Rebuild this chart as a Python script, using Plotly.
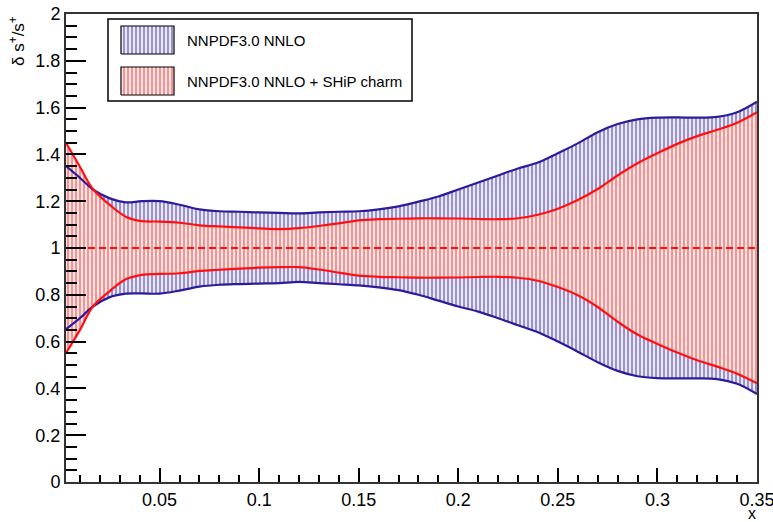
import plotly.graph_objects as go

# Strange-sea ratio uncertainty bands: delta s+/s+ versus x
x_vals = [0.003, 0.01, 0.0165, 0.025, 0.033, 0.041, 0.05, 0.06, 0.07, 0.08, 0.09,
          0.10, 0.11, 0.12, 0.13, 0.14, 0.15, 0.16, 0.17, 0.18, 0.19, 0.20,
          0.21, 0.22, 0.23, 0.24, 0.25, 0.26, 0.27, 0.28, 0.29, 0.30,
          0.31, 0.32, 0.33, 0.34, 0.35]

nnpdf_upper = [1.35, 1.30, 1.25, 1.212, 1.195, 1.200, 1.200, 1.185, 1.165, 1.157, 1.155,
               1.152, 1.150, 1.148, 1.152, 1.155, 1.157, 1.165, 1.178, 1.198, 1.22, 1.25,
               1.28, 1.31, 1.34, 1.365, 1.405, 1.447, 1.495, 1.53, 1.55, 1.557,
               1.558, 1.557, 1.56, 1.58, 1.625]
nnpdf_lower = [0.653, 0.70, 0.75, 0.79, 0.805, 0.806, 0.805, 0.818, 0.835, 0.843, 0.846,
               0.848, 0.850, 0.855, 0.850, 0.845, 0.840, 0.832, 0.820, 0.800, 0.775, 0.750,
               0.728, 0.700, 0.670, 0.640, 0.600, 0.557, 0.512, 0.475, 0.452, 0.444,
               0.443, 0.443, 0.440, 0.420, 0.376]

ship_upper = [1.45, 1.347, 1.252, 1.184, 1.134, 1.115, 1.113, 1.108, 1.097, 1.092, 1.088,
              1.084, 1.081, 1.085, 1.094, 1.105, 1.118, 1.123, 1.125, 1.127, 1.127, 1.126,
              1.124, 1.123, 1.127, 1.142, 1.168, 1.205, 1.252, 1.31, 1.362, 1.405,
              1.445, 1.478, 1.505, 1.535, 1.58]
ship_lower = [0.551, 0.65, 0.75, 0.816, 0.866, 0.885, 0.889, 0.892, 0.902, 0.907, 0.912,
              0.916, 0.918, 0.918, 0.908, 0.895, 0.882, 0.877, 0.875, 0.873, 0.873, 0.874,
              0.876, 0.877, 0.873, 0.860, 0.833, 0.798, 0.748, 0.685, 0.630, 0.590,
              0.553, 0.520, 0.493, 0.463, 0.422]

central_value = 1.0
series_names = ["NNPDF3.0 NNLO", "NNPDF3.0 NNLO + SHiP charm"]
x_ticks = [0.05, 0.10, 0.15, 0.20, 0.25, 0.30, 0.35]
x_tick_text = ["0.05", "0.1", "0.15", "0.2", "0.25", "0.3", "0.35"]

BLUE_LINE = "#2c1c9a"
BLUE_HATCH = "#3524a8"
RED_LINE = "#ff1010"
RED_HATCH = "#ff2020"

FONT = "Liberation Sans, Arial, Helvetica, sans-serif"

W, H = 773, 522
ML, MR, MT, MB = 66, 16, 14, 40
PW, PH = W - ML - MR, H - MT - MB


def fx(px):
    return (px - ML) / PW


def fy(py):
    return (H - MB - py) / PH


def hatch(color):
    return dict(shape="|", fgcolor=color, bgcolor="white", size=4, solidity=0.6)


SMOOTH = 1.0
fig = go.Figure()

# filled bands (fills first, edges drawn afterwards on top)
for lo, up, hc in [(nnpdf_lower, nnpdf_upper, BLUE_HATCH),
                   (ship_lower, ship_upper, RED_HATCH)]:
    fig.add_trace(go.Scatter(x=x_vals, y=lo, mode="lines", showlegend=False,
                             line=dict(width=0, shape="spline", smoothing=SMOOTH),
                             hoverinfo="skip"))
    fig.add_trace(go.Scatter(x=x_vals, y=up, mode="lines", fill="tonexty",
                             fillpattern=hatch(hc), showlegend=False,
                             line=dict(width=0, shape="spline", smoothing=SMOOTH),
                             hoverinfo="skip"))

# band edges
for lo, up, lc in [(nnpdf_lower, nnpdf_upper, BLUE_LINE),
                   (ship_lower, ship_upper, RED_LINE)]:
    for ys in (lo, up):
        fig.add_trace(go.Scatter(x=x_vals, y=ys, mode="lines", showlegend=False,
                                 line=dict(color=lc, width=2.2, shape="spline",
                                           smoothing=SMOOTH)))

# central value
fig.add_trace(go.Scatter(x=[x_vals[0], x_vals[-1]], y=[central_value, central_value],
                         mode="lines", showlegend=False,
                         line=dict(color=RED_LINE, width=2, dash="7px,4px")))

# legend box drawn on an overlay axis so the swatches can carry the hatch pattern
legend_rows = [(26, 54, BLUE_HATCH, series_names[0]),
               (67, 95, RED_HATCH, series_names[1])]
for top, bot, hc, name in legend_rows:
    x0, x1 = fx(121), fx(174)
    y0, y1 = fy(bot), fy(top)
    fig.add_trace(go.Scatter(x=[x0, x1, x1, x0, x0], y=[y0, y0, y1, y1, y0],
                             xaxis="x2", yaxis="y2", mode="lines", fill="toself",
                             fillpattern=hatch(hc), showlegend=False,
                             line=dict(color="black", width=1.2), hoverinfo="skip"))
    fig.add_annotation(x=fx(185), y=fy((top + bot) / 2), xref="paper", yref="paper",
                       xanchor="left", yanchor="middle", text=name, showarrow=False,
                       font=dict(family=FONT, size=15, color="black"))

fig.add_shape(type="rect", xref="paper", yref="paper",
              x0=fx(108), x1=fx(412), y0=fy(101), y1=fy(19),
              line=dict(color="black", width=1.5), fillcolor="white", layer="below")

# axis titles
fig.add_annotation(x=fx(17), y=1.0, xref="paper", yref="paper", xanchor="center",
                   yanchor="top", textangle=-90, showarrow=False,
                   text="δ s<sup>+</sup>/s<sup>+</sup>",
                   font=dict(family=FONT, size=17, color="black"))
fig.add_annotation(x=fx(752), y=fy(513), xref="paper", yref="paper", xanchor="center",
                   yanchor="middle", showarrow=False, text="x", borderpad=0,
                   font=dict(family=FONT, size=16, color="black"))

axis_line = dict(showline=True, linecolor="#333333", linewidth=2, mirror=True,
                 showgrid=False, zeroline=False, ticks="inside", tickcolor="black",
                 ticklabeloverflow="allow", automargin=False,
                 tickfont=dict(family=FONT, size=18, color="black"))

fig.update_layout(
    width=W, height=H,
    margin=dict(l=ML, r=MR, t=MT, b=MB, pad=0, autoexpand=False),
    paper_bgcolor="white", plot_bgcolor="white",
    showlegend=False,
    xaxis=dict(range=[x_vals[0], x_vals[-1]], tickvals=x_ticks, ticktext=x_tick_text,
               ticklen=14, tickwidth=1.5,
               minor=dict(dtick=0.01, tick0=0, ticklen=7, ticks="inside",
                          tickcolor="black", tickwidth=1.5),
               **axis_line),
    yaxis=dict(range=[0, 2], dtick=0.2, tick0=0, ticklen=20, tickwidth=1.5,
               minor=dict(dtick=0.05, tick0=0, ticklen=11, ticks="inside",
                          tickcolor="black", tickwidth=1.5),
               **axis_line),
    xaxis2=dict(overlaying="x", range=[0, 1], visible=False, fixedrange=True),
    yaxis2=dict(overlaying="y", range=[0, 1], visible=False, fixedrange=True),
)

fig.write_html("out.html")
